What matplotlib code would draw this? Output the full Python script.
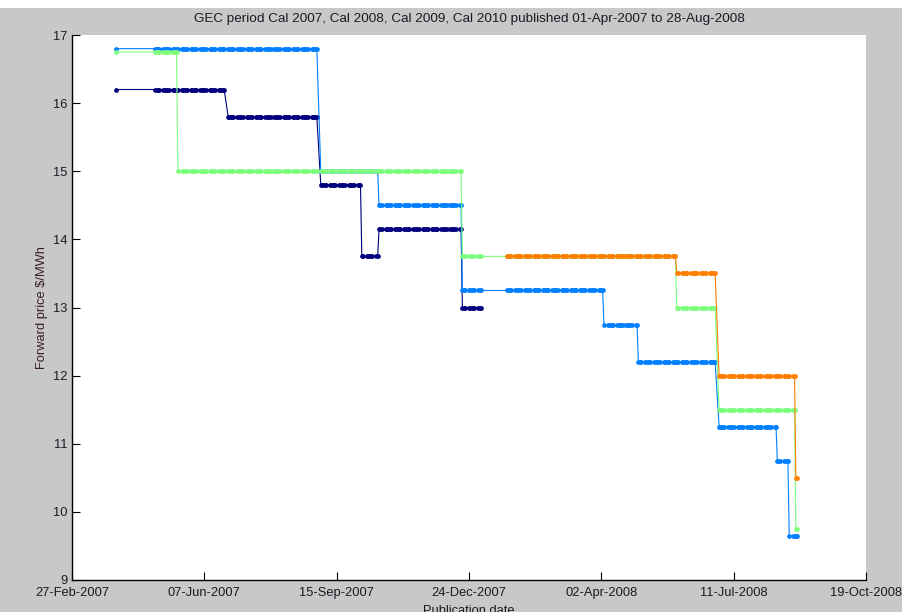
"""Forward GEC prices by calendar period, stepped over publication dates."""

import matplotlib
matplotlib.use("Agg")
import matplotlib.pyplot as plt
from matplotlib.patches import Rectangle
import pandas as pd

# Publication dates: one early print, then business days with a gap over New Year
pub_dates = (pd.DatetimeIndex(["2007-04-01"])
             .append(pd.bdate_range("2007-05-01", "2008-01-02"))
             .append(pd.bdate_range("2008-01-22", "2008-08-28")))

# Each series: date a new price took effect, the price, and the last publication
cal2007_from = ["2007-04-01", "2007-06-25", "2007-09-03", "2007-10-04",
                "2007-10-17", "2007-12-19"]
cal2007_price = [16.2, 15.8, 14.8, 13.75, 14.15, 13.0]
cal2007_last = "2008-01-02"

cal2008_from = ["2007-04-01", "2007-09-03", "2007-10-17", "2007-12-19",
                "2008-04-04", "2008-04-30", "2008-06-30", "2008-08-13",
                "2008-08-22"]
cal2008_price = [16.8, 15.0, 14.5, 13.25, 12.75, 12.2, 11.25, 10.75, 9.65]
cal2008_last = "2008-08-28"

cal2009_from = ["2007-04-01", "2007-05-18", "2007-12-19", "2008-05-29",
                "2008-06-30", "2008-08-27"]
cal2009_price = [16.75, 15.0, 13.75, 13.0, 11.5, 9.75]
cal2009_last = "2008-08-28"

cal2010_from = ["2008-01-22", "2008-05-29", "2008-06-30", "2008-08-27"]
cal2010_price = [13.75, 13.5, 12.0, 10.5]
cal2010_last = "2008-08-28"

x_tick_labels = ["27-Feb-2007", "07-Jun-2007", "15-Sep-2007", "24-Dec-2007",
                 "02-Apr-2008", "11-Jul-2008", "19-Oct-2008"]
y_ticks = [9, 10, 11, 12, 13, 14, 15, 16, 17]


def published(starts, prices, last):
    steps = pd.Series(prices, index=pd.to_datetime(starts))
    keep = (pub_dates >= steps.index[0]) & (pub_dates <= pd.Timestamp(last))
    dates = pub_dates[keep]
    return dates, steps.reindex(dates, method="ffill").values


series = [
    (cal2007_from, cal2007_price, cal2007_last, "#00007f"),
    (cal2008_from, cal2008_price, cal2008_last, "#007fff"),
    (cal2009_from, cal2009_price, cal2009_last, "#7fff7f"),
    (cal2010_from, cal2010_price, cal2010_last, "#ff7f00"),
]

W, H = 903, 612
fig = plt.figure(figsize=(W / 100, H / 100), dpi=100, facecolor="#c8c8c8")
fig.patches.append(Rectangle((0, 1 - 8 / H), 1, 8 / H, transform=fig.transFigure,
                             facecolor="white", edgecolor="none"))

ax = fig.add_axes([72 / W, 1 - 580 / H, 794 / W, 545 / H])
ax.set_facecolor("white")

for starts, prices, last, colour in series:
    d, v = published(starts, prices, last)
    ax.plot(d, v, "-", color=colour, lw=0.8, marker="o", ms=3.4, mew=0)

x_ticks = pd.to_datetime(x_tick_labels, format="%d-%b-%Y")
ax.set_xlim(x_ticks[0], x_ticks[-1])
ax.set_ylim(9, 17)
ax.set_xticks(x_ticks)
ax.set_xticklabels(x_tick_labels)
ax.set_yticks(y_ticks)

for side in ("top", "right"):
    ax.spines[side].set_visible(False)
for side in ("left", "bottom"):
    ax.spines[side].set_linewidth(1.0)
    ax.spines[side].set_color("black")

ax.tick_params(direction="in", length=6, width=0.8, labelsize=9.3,
               labelcolor="#1a1a24")
ax.tick_params(axis="x", pad=5)
ax.tick_params(axis="y", pad=3)
for lab in ax.get_xticklabels() + ax.get_yticklabels():
    lab.set_family("Liberation Sans")

ax.set_xlabel("Publication date", fontsize=9.3, family="Liberation Sans",
              color="#1a1a24", labelpad=4)
ax.set_ylabel("Forward price $/MWh", fontsize=9.3, family="Liberation Sans",
              color="#3a1f1f", labelpad=4)

fig.text(469 / W, 1 - 19 / H,
         "GEC period Cal 2007, Cal 2008, Cal 2009, Cal 2010 published "
         "01-Apr-2007 to 28-Aug-2008",
         ha="center", va="center", fontsize=9.7, family="Liberation Sans",
         color="#1a1a24")

fig.savefig("out.png", dpi=100, facecolor=fig.get_facecolor())
